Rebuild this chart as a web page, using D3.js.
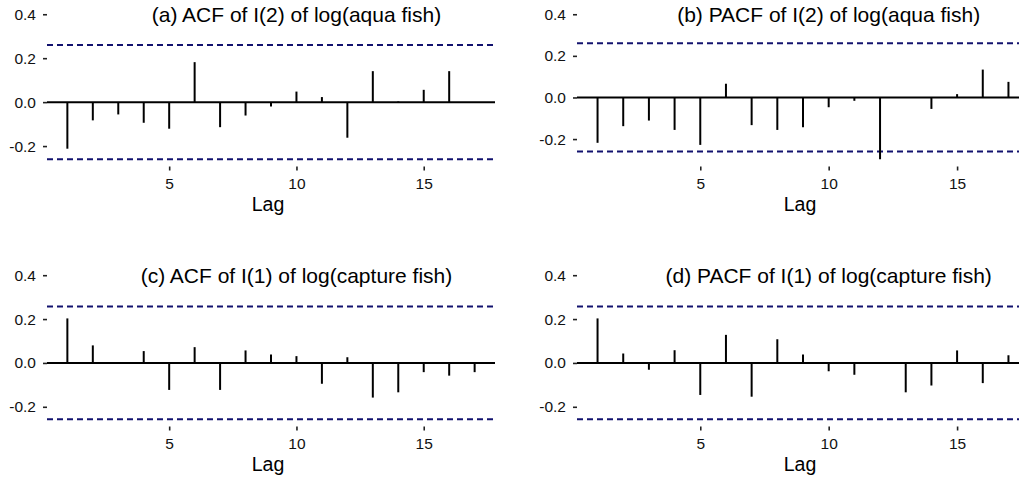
<!DOCTYPE html>
<html>
<head>
<meta charset="utf-8">
<script src="https://cdn.jsdelivr.net/npm/d3@7"></script>
<style>
  body { margin: 0; background: #fff; }
  svg { display: block; font-family: "Liberation Sans", Arial, sans-serif; }
  .tick text { fill: #111; }
</style>
</head>
<body>
<div id="chart"></div>
<script>
// lags y valores
const lags = [1, 2, 3, 4, 5, 6, 7, 8, 9, 10, 11, 12, 13, 14, 15, 16, 17];
const acfAqua = [-0.212, -0.083, -0.056, -0.094, -0.121, 0.182, -0.114, -0.061, -0.02, 0.048, 0.023, -0.162, 0.141, 0.003, 0.056, 0.141, -0.002];
const pacfAqua = [-0.218, -0.138, -0.111, -0.156, -0.228, 0.066, -0.133, -0.156, -0.143, -0.047, -0.016, -0.297, 0.002, -0.055, 0.016, 0.134, 0.075];
const acfCapture = [0.203, 0.08, 0.003, 0.054, -0.123, 0.072, -0.123, 0.057, 0.038, 0.031, -0.095, 0.026, -0.158, -0.134, -0.042, -0.058, -0.042];
const pacfCapture = [0.203, 0.043, -0.031, 0.058, -0.146, 0.128, -0.154, 0.108, 0.038, -0.038, -0.054, 0.002, -0.134, -0.103, 0.057, -0.092, 0.035];
const ciAqua = 0.26;
const ciCapture = 0.257;
const yTicks = [-0.2, 0, 0.2, 0.4];
const xTicks = [5, 10, 15];
const titles = [
  "(a) ACF of I(2) of log(aqua fish)",
  "(b) PACF of I(2) of log(aqua fish)",
  "(c) ACF of I(1) of log(capture fish)",
  "(d) PACF of I(1) of log(capture fish)"
];
const titlePos = { lag: 10, value: 0.4 };

const width = 1019,
  height = 480;

// posicion de cada panel en pixeles
const panels = [
  { title: titles[0], values: acfAqua, ci: ciAqua, left: 47, right: 495, top: 7, bottom: 166.5 },
  { title: titles[1], values: pacfAqua, ci: ciAqua, left: 577, right: 1029, top: 7, bottom: 166.5 },
  { title: titles[2], values: acfCapture, ci: ciCapture, left: 47, right: 495, top: 268, bottom: 426.5 },
  { title: titles[3], values: pacfCapture, ci: ciCapture, left: 577, right: 1029, top: 268, bottom: 426.5 }
];

const svg = d3
  .select("#chart")
  .append("svg")
  .attr("width", width)
  .attr("height", height);

const fmt = (d) => d3.format(".1f")(d).replace("\u2212", "-");

// expandir el dominio un 5% como ggplot
function expand(lo, hi) {
  const pad = (hi - lo) * 0.05;
  return [lo - pad, hi + pad];
}

panels.forEach((p) => {
  const data = lags.map((lag, i) => ({ lag: lag, value: p.values[i] }));

  const xScale = d3
    .scaleLinear()
    .domain(expand(d3.min(lags), d3.max(lags)))
    .range([p.left, p.right]);

  const yMin = Math.min(d3.min(p.values), -p.ci);
  const yMax = Math.max(d3.max(p.values), p.ci, titlePos.value);
  const yScale = d3
    .scaleLinear()
    .domain(expand(yMin, yMax))
    .range([p.bottom, p.top]);

  const g = svg.append("g");

  // eje y (solo marcas)
  const yAxis = g
    .append("g")
    .attr("transform", `translate(${p.left},0)`)
    .call(d3.axisLeft(yScale).tickValues(yTicks).tickFormat(fmt).tickSize(4).tickPadding(7));
  yAxis.select(".domain").remove();
  yAxis.selectAll(".tick line").attr("stroke", "#222").attr("stroke-width", 1.6);
  yAxis.selectAll(".tick text").style("font-size", "15.5px");

  // eje x
  const xAxis = g
    .append("g")
    .attr("transform", `translate(0,${p.bottom})`)
    .call(d3.axisBottom(xScale).tickValues(xTicks).tickSize(4).tickPadding(7));
  xAxis.select(".domain").remove();
  xAxis.selectAll(".tick line").attr("stroke", "#222").attr("stroke-width", 1.6);
  xAxis.selectAll(".tick text").style("font-size", "15.5px");

  g.append("text")
    .attr("x", (p.left + p.right) / 2 - 3)
    .attr("y", p.bottom + 44)
    .attr("text-anchor", "middle")
    .style("font-size", "19.5px")
    .attr("fill", "#000")
    .text("Lag");

  // lineas de confianza
  g.selectAll(".ci")
    .data([p.ci, -p.ci])
    .enter()
    .append("line")
    .attr("x1", xScale.range()[0])
    .attr("x2", xScale.range()[1])
    .attr("y1", (d) => yScale(d))
    .attr("y2", (d) => yScale(d))
    .attr("stroke", "#12126e")
    .attr("stroke-width", 2)
    .attr("stroke-dasharray", "6 4");

  // linea cero
  g.append("line")
    .attr("x1", xScale.range()[0])
    .attr("x2", xScale.range()[1])
    .attr("y1", yScale(0))
    .attr("y2", yScale(0))
    .attr("stroke", "#000")
    .attr("stroke-width", 2);

  // barras verticales
  g.selectAll(".bar")
    .data(data)
    .enter()
    .append("line")
    .attr("x1", (d) => xScale(d.lag))
    .attr("x2", (d) => xScale(d.lag))
    .attr("y1", yScale(0))
    .attr("y2", (d) => yScale(d.value))
    .attr("stroke", "#000")
    .attr("stroke-width", 2);

  // titulo
  g.append("text")
    .attr("x", xScale(titlePos.lag))
    .attr("y", yScale(titlePos.value))
    .attr("dy", "0.35em")
    .attr("text-anchor", "middle")
    .style("font-size", "21px")
    .attr("fill", "#000")
    .text(p.title);
});
</script>
</body>
</html>
